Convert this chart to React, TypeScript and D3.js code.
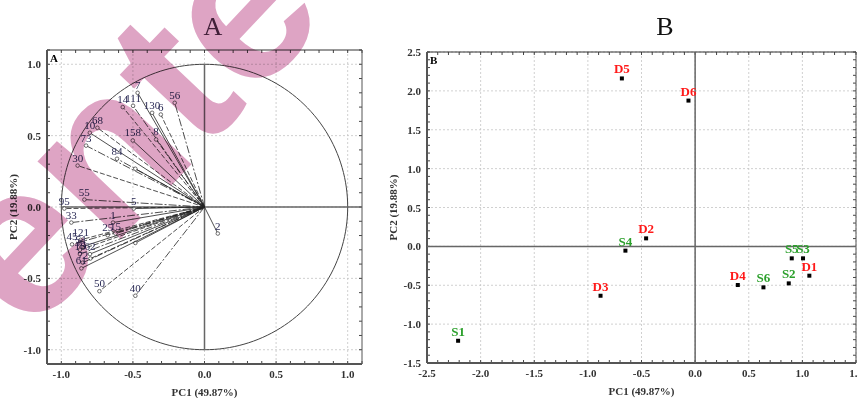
import React, { useEffect } from "react";
import * as d3 from "d3";

// panel A: loadings
const loadLabels = ["7", "14", "111", "130", "6", "56", "10", "68", "73", "158", "8", "84", "", "30", "55", "5", "95", "33", "1", "25", "15", "", "121", "45", "51", "36", "16", "62", "", "72", "61", "50", "40", "2"];
const loadPC1 = [-0.467, -0.571, -0.499, -0.366, -0.305, -0.208, -0.801, -0.748, -0.827, -0.501, -0.338, -0.611, -0.483, -0.886, -0.839, -0.494, -0.979, -0.93, -0.639, -0.676, -0.622, -0.483, -0.865, -0.925, -0.86, -0.87, -0.87, -0.8, -0.797, -0.85, -0.86, -0.734, -0.483, 0.093];
const loadPC2 = [0.8, 0.7, 0.709, 0.66, 0.648, 0.73, 0.52, 0.555, 0.43, 0.466, 0.473, 0.338, 0.268, 0.29, 0.052, -0.011, -0.011, -0.109, -0.109, -0.198, -0.186, -0.252, -0.23, -0.262, -0.28, -0.3, -0.33, -0.33, -0.361, -0.39, -0.43, -0.59, -0.622, -0.186];

// panel B: scores
const sampleNames = ["D1", "D2", "D3", "D4", "D5", "D6", "S1", "S2", "S3", "S4", "S5", "S6"];
const scorePC1 = [1.065, -0.457, -0.882, 0.398, -0.683, -0.062, -2.21, 0.873, 1.006, -0.65, 0.901, 0.637];
const scorePC2 = [-0.377, 0.103, -0.635, -0.497, 2.16, 1.875, -1.214, -0.476, -0.154, -0.055, -0.154, -0.527];

const ticksA = [-1.0, -0.5, 0.0, 0.5, 1.0];
const ticksBx = [-2.5, -2.0, -1.5, -1.0, -0.5, 0.0, 0.5, 1.0, 1.5];
const ticksBy = [-1.5, -1.0, -0.5, 0.0, 0.5, 1.0, 1.5, 2.0, 2.5];

const serif = "'Liberation Serif', 'DejaVu Serif', serif";

const Frame = ({ x, y, major, minor, label }: any) => {
  const [x0, x1] = x.range();
  const [y0, y1] = y.range();
  return (
    <g>
      {major.x.map((t: number) => (
        <line key={"gx" + t} x1={x(t)} x2={x(t)} y1={y1} y2={y0} stroke="#c4c4c4" strokeDasharray="2,2" strokeWidth={0.8} />
      ))}
      {major.y.map((t: number) => (
        <line key={"gy" + t} x1={x0} x2={x1} y1={y(t)} y2={y(t)} stroke="#c4c4c4" strokeDasharray="2,2" strokeWidth={0.8} />
      ))}
      {minor.x.map((t: number, i: number) => (
        <g key={"mx" + i}>
          <line x1={x(t)} x2={x(t)} y1={y0} y2={y0 - 3} stroke="#444" />
          <line x1={x(t)} x2={x(t)} y1={y1} y2={y1 + 3} stroke="#444" />
        </g>
      ))}
      {minor.y.map((t: number, i: number) => (
        <g key={"my" + i}>
          <line x1={x0} x2={x0 + 3} y1={y(t)} y2={y(t)} stroke="#444" />
          <line x1={x1} x2={x1 - 3} y1={y(t)} y2={y(t)} stroke="#444" />
        </g>
      ))}
      <line x1={x0} x2={x1} y1={y1} y2={y1} stroke="#333" strokeWidth={1} />
      <line x1={x1} x2={x1} y1={y1} y2={y0} stroke="#555" strokeWidth={1} />
      <line x1={x0} x2={x0} y1={y1} y2={y0} stroke="#555" strokeWidth={2} />
      <line x1={x0} x2={x1} y1={y0} y2={y0} stroke="#555" strokeWidth={2} />
      {major.x.map((t: number) => (
        <text key={"tx" + t} x={x(t)} y={y0 + 14} textAnchor="middle" fontSize={11} fontWeight="bold" fill="#333">
          {t.toFixed(1)}
        </text>
      ))}
      {major.y.map((t: number) => (
        <text key={"ty" + t} x={x0 - 6} y={y(t) + 4} textAnchor="end" fontSize={11} fontWeight="bold" fill="#333">
          {t.toFixed(1)}
        </text>
      ))}
      <text x={x0 + 3} y={y1 + 12} fontSize={11} fontWeight="bold">{label}</text>
      <text x={(x0 + x1) / 2} y={y0 + 32} textAnchor="middle" fontSize={11} fontWeight="bold" fill="#333">PC1 (49.87%)</text>
      <text transform={`translate(${x0 - 30},${(y0 + y1) / 2}) rotate(-90)`} textAnchor="middle" fontSize={11} fontWeight="bold" fill="#333">PC2 (19.88%)</text>
    </g>
  );
};

const App: React.FC = () => {
  useEffect(() => {
    document.body.style.margin = "0";
  }, []);

  const xA = d3.scaleLinear().domain([-1.1, 1.1]).range([47, 362]);
  const yA = d3.scaleLinear().domain([-1.1, 1.1]).range([364, 50]);
  const xB = d3.scaleLinear().domain([-2.5, 1.5]).range([427, 856]);
  const yB = d3.scaleLinear().domain([-1.5, 2.5]).range([363, 52]);

  const minorA = d3.range(-11, 12).map((i) => i / 10);
  const minorBx = d3.range(-25, 16).map((i) => i / 10);
  const minorBy = d3.range(-15, 26).map((i) => i / 10);

  const circle = d3.range(0, 361, 2).map((a) => [Math.cos((a * Math.PI) / 180), Math.sin((a * Math.PI) / 180)]);
  const circlePath = d3.line().x((d) => xA(d[0])).y((d) => yA(d[1]))(circle as any) as string;

  return (
    <svg width={858} height={398} style={{ display: "block", background: "#fff", fontFamily: serif }}>
      {/* panel A */}
      <Frame x={xA} y={yA} major={{ x: ticksA, y: ticksA }} minor={{ x: minorA, y: minorA }} label="A" />
      <path d={circlePath} fill="none" stroke="#444" strokeWidth={1} />
      <line x1={xA(-1)} x2={xA(1.1)} y1={yA(0)} y2={yA(0)} stroke="#666" strokeWidth={1.5} />
      <line x1={xA(0)} x2={xA(0)} y1={yA(1)} y2={yA(-1)} stroke="#666" strokeWidth={1.5} />
      {loadLabels.map((lab, i) => (
        <g key={"v" + i}>
          <line
            x1={xA(0)}
            y1={yA(0)}
            x2={xA(loadPC1[i])}
            y2={yA(loadPC2[i])}
            stroke="#222"
            strokeWidth={0.8}
            strokeDasharray={i % 3 === 0 ? undefined : i % 3 === 1 ? "5,2" : "8,2,2,2"}
          />
          <circle cx={xA(loadPC1[i])} cy={yA(loadPC2[i])} r={1.8} fill="#fff" stroke="#333" strokeWidth={0.7} />
          <text x={xA(loadPC1[i])} y={yA(loadPC2[i]) - 4} textAnchor="middle" fontSize={11} fill="#2a2a55">
            {lab}
          </text>
        </g>
      ))}
      <text x={213} y={35} textAnchor="middle" fontSize={26} fill="#4a3049">A</text>

      {/* panel B */}
      <Frame x={xB} y={yB} major={{ x: ticksBx, y: ticksBy }} minor={{ x: minorBx, y: minorBy }} label="B" />
      <line x1={xB(-2.5)} x2={xB(1.5)} y1={yB(0)} y2={yB(0)} stroke="#666" strokeWidth={1.5} />
      <line x1={xB(0)} x2={xB(0)} y1={yB(-1.5)} y2={yB(2.5)} stroke="#666" strokeWidth={1.5} />
      {sampleNames.map((n, i) => (
        <g key={n}>
          <rect x={xB(scorePC1[i]) - 2} y={yB(scorePC2[i]) - 2} width={4} height={4} fill="#000" />
          <text
            x={xB(scorePC1[i])}
            y={yB(scorePC2[i]) - 5}
            textAnchor="middle"
            fontSize={13}
            fontWeight="bold"
            fill={n[0] === "D" ? "#ff1a1a" : "#2ca02c"}
          >
            {n}
          </text>
        </g>
      ))}
      <text x={665} y={35} textAnchor="middle" fontSize={26} fill="#111">B</text>

      {/* watermark */}
      <text
        transform="translate(28,337) rotate(-46.6)"
        fontSize={215}
        fontWeight="bold"
        fontFamily="'Liberation Sans', Arial, sans-serif"
        fill="#dea4c4"
        style={{ mixBlendMode: "multiply" }}
      >
        ente
      </text>
    </svg>
  );
};

export default App;
